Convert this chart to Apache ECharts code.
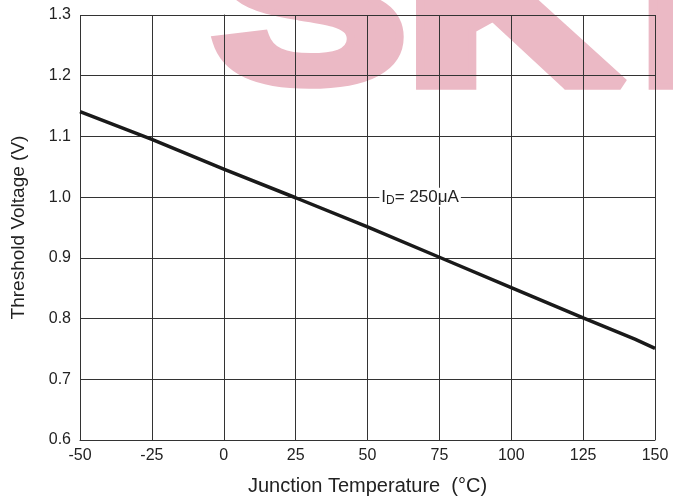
<!DOCTYPE html>
<html>
<head>
<meta charset="utf-8">
<script src="https://cdn.jsdelivr.net/npm/echarts@6/dist/echarts.min.js"></script>
<style>html,body{margin:0;padding:0;background:#fff}#c{width:673px;height:501px}</style>
</head>
<body>
<div id="c"></div>
<script>
const temps = [-50, -25, 0, 25, 50, 75, 100, 125, 143, 150];
const vth = [1.141, 1.095, 1.046, 0.999, 0.951, 0.901, 0.851, 0.801, 0.766, 0.751];
const xTicks = [-50, -25, 0, 25, 50, 75, 100, 125, 150];
const yTicks = [0.6, 0.7, 0.8, 0.9, 1.0, 1.1, 1.2, 1.3];
const labelPos = [68.3, 1.0];

const chart = echarts.init(document.getElementById('c'), null, {renderer: 'canvas'});
const font = 'Liberation Sans, Arial, sans-serif';
const wm = '#ebb9c5';
const wmStyle = (t) => ({text: t, font: 'bold 220px Liberation Sans', fill: wm, stroke: wm, lineWidth: 12, lineJoin: 'round'});
chart.setOption({
  animation: false,
  backgroundColor: '#fff',
  graphic: [
    {type: 'text', z: -10, x: 212, y: -90, scaleX: 1.33, style: wmStyle('S')},
    {type: 'text', z: -10, x: 404, y: -87, scaleX: 1.38, style: wmStyle('K')},
    {type: 'text', z: -10, x: 636, y: -87, scaleX: 1.45, style: wmStyle('I')}
  ],
  grid: {left: 80, right: 18, top: 15, bottom: 59, show: false},
  xAxis: {
    type: 'value', min: -50, max: 150, interval: 25,
    name: 'Junction Temperature  (°C)', nameLocation: 'middle', nameGap: 36,
    nameTextStyle: {fontFamily: font, fontSize: 20, color: '#222'},
    axisLine: {show: true, lineStyle: {color: '#333', width: 1}},
    axisTick: {show: false},
    axisLabel: {fontFamily: font, fontSize: 16, color: '#222', margin: 8,
      formatter: v => xTicks.includes(v) ? String(v) : ''},
    splitLine: {show: true, lineStyle: {color: '#333', width: 1}}
  },
  yAxis: {
    type: 'value', min: 0.6, max: 1.3, interval: 0.1,
    name: 'Threshold Voltage (V)', nameLocation: 'middle', nameGap: 52,
    nameTextStyle: {fontFamily: font, fontSize: 19, color: '#222'},
    axisLine: {show: true, lineStyle: {color: '#333', width: 1}},
    axisTick: {show: false},
    axisLabel: {fontFamily: font, fontSize: 16, color: '#222', margin: 9,
      formatter: v => { const t = yTicks.find(y => Math.abs(y - v) < 1e-6); return t !== undefined ? t.toFixed(1) : ''; }},
    splitLine: {show: true, lineStyle: {color: '#333', width: 1}}
  },
  series: [{
    type: 'line',
    data: temps.map((t, i) => [t, vth[i]]),
    symbol: 'none',
    lineStyle: {color: '#1a1a1a', width: 3.5},
    z: 5,
    markPoint: {
      symbol: 'circle', symbolSize: 0,
      data: [{coord: labelPos}],
      label: {
        show: true, position: 'inside',
        formatter: 'I{sub|D}= 250μA',
        backgroundColor: '#fff', padding: [0, 2, 0, 2],
        fontFamily: font, fontSize: 17, color: '#222',
        rich: {sub: {fontFamily: font, fontSize: 12, color: '#222', verticalAlign: 'bottom', padding: [7, 0, 0, 0]}}
      }
    }
  }]
});
</script>
</body>
</html>
